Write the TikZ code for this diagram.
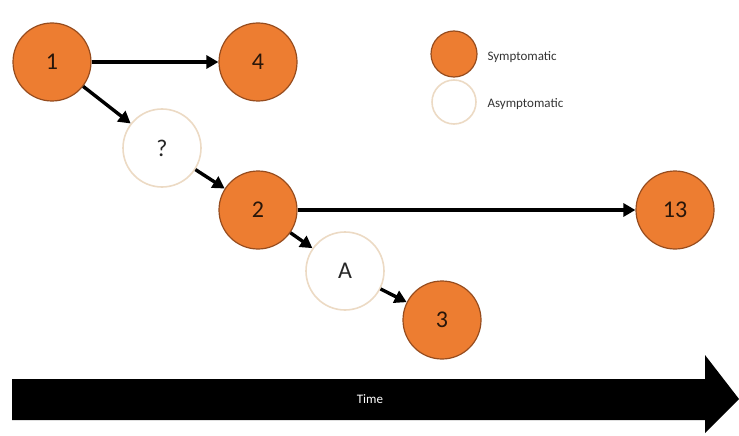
\documentclass[tikz,border=0pt]{standalone}
\usepackage{fontspec}
\setmainfont{Carlito}
\definecolor{symorange}{RGB}{237,125,49}
\definecolor{symborder}{RGB}{150,76,30}
\definecolor{asymborder}{RGB}{236,218,196}
\definecolor{numtext}{RGB}{40,22,10}
\usetikzlibrary{arrows.meta,positioning}

\begin{document}
\begin{tikzpicture}[x=1pt,y=-1pt,
    sym/.style={circle,draw=symborder,fill=symorange,line width=1.2pt,
      minimum size=78pt,inner sep=0pt,text=numtext,font=\fontsize{24}{28}\selectfont},
    asym/.style={circle,draw=asymborder,fill=white,line width=1.6pt,
      minimum size=78pt,inner sep=0pt,text=black!85,font=\fontsize{24}{28}\selectfont},
    spread/.style={-{Triangle[length=12pt,width=13pt]},line width=3.4pt,black},
    legendtext/.style={anchor=west,font=\fontsize{13}{15}\selectfont,text=black!80}]
  \useasboundingbox (0,0) rectangle (739,436);
  % cases
  \node[sym] (c1) at (52,62) {1};
  \node[sym] (c4) at (258,62) {4};
  \node[asym] (unk) at (162,148) {?};
  \node[sym] (c2) at (258,210) {2};
  \node[asym] (ca) at (345,271) {A};
  \node[sym] (c3) at (442,320) {3};
  \node[sym] (c13) at (675,210) {13};
  % legend
  \node[sym,minimum size=46pt] (lsym) at (454,54) {};
  \node[asym,minimum size=44pt] (lasym) at (454,102) {};
  \node[legendtext] (tsym) at (484,57) {Symptomatic};
  \node[legendtext] (tasym) at (484,104) {Asymptomatic};
  % transmission
  \draw[spread] (c1) -- (c4);
  \draw[spread] (c1) -- (unk);
  \draw[spread] (unk) -- (c2);
  \draw[spread] (c2) -- (c13);
  \draw[spread] (c2) -- (ca);
  \draw[spread] (ca) -- (c3);
  % time axis
  \fill[black] (12,379) -- (705,379) -- (705,355) -- (739,399)
    -- (705,433) -- (705,420) -- (12,420) -- cycle;
  \node[text=white,font=\fontsize{13}{15}\selectfont] (time) at (370,399) {Time};
\end{tikzpicture}
\end{document}
